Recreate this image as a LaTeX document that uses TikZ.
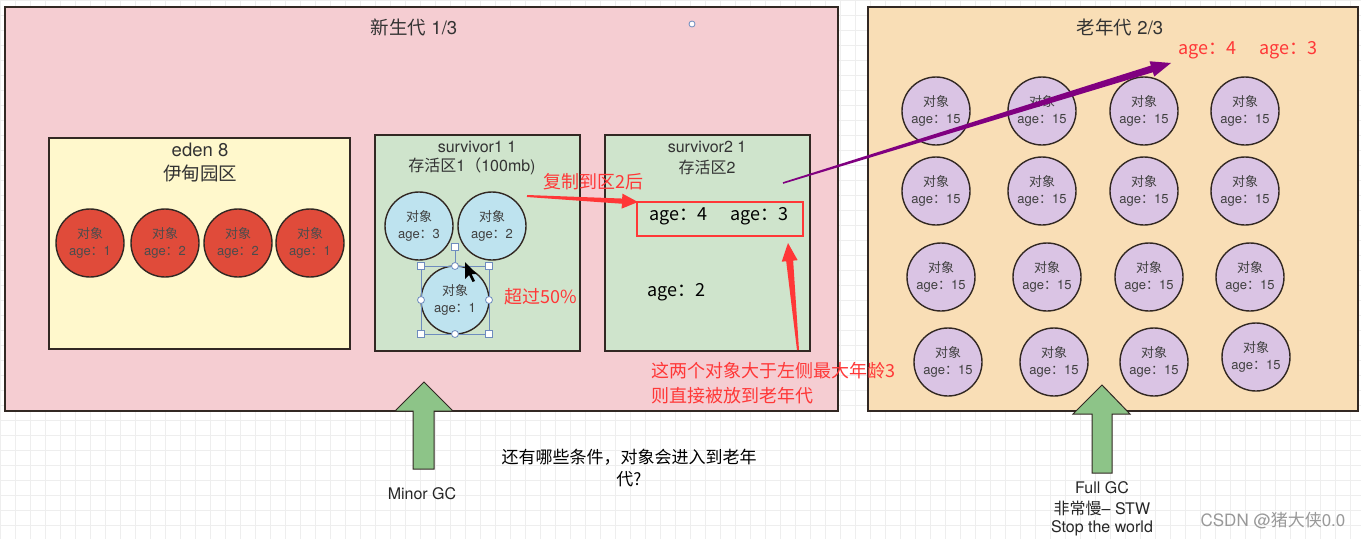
\documentclass[tikz,border=0pt]{standalone}
\usepackage{fontspec}
\setmainfont{TeX Gyre Heros}
\newfontfamily\cjk{Noto Sans CJK SC}
\newcommand{\zh}[1]{{\cjk #1}}
\usetikzlibrary{calc}
\definecolor{youngpink}{RGB}{245,205,210}
\definecolor{oldwheat}{RGB}{249,222,182}
\definecolor{edenyel}{RGB}{255,248,204}
\definecolor{survgreen}{RGB}{207,228,204}
\definecolor{objred}{RGB}{224,75,58}
\definecolor{objblue}{RGB}{190,227,239}
\definecolor{objpurple}{RGB}{218,196,228}
\definecolor{gcgreen}{RGB}{141,196,136}
\definecolor{notered}{RGB}{255,55,55}
\definecolor{arrowpurple}{RGB}{128,0,128}
\definecolor{gridgray}{RGB}{238,238,238}
\definecolor{selblue}{RGB}{110,140,190}
\definecolor{edge}{RGB}{50,40,35}
\newcommand{\fs}[1]{\fontsize{#1}{\fpeval{#1*1.25}}\selectfont}
\newcommand{\taperarrow}[7]{%
  \path ($(#2)!#5!(#1)$) coordinate (tb);
  \fill[#7] ($(#1)!#3!90:(#2)$) -- ($(tb)!#4!90:(#2)$) -- ($(tb)!#6!90:(#2)$) -- (#2)
    -- ($(tb)!#6!-90:(#2)$) -- ($(tb)!#4!-90:(#2)$) -- ($(#1)!#3!-90:(#2)$) -- cycle;}
\tikzset{
  region/.style={draw=edge, line width=1.3pt},
  title/.style={font=\fs{18.5}, text=black!80, inner sep=0pt},
  subtitle/.style={font=\fs{16}, text=black!80, inner sep=0pt},
  obj/.style={circle, draw=edge, line width=1.4pt, minimum size=68pt, inner sep=0pt,
    align=center, font=\fs{13}, text=black!75},
  redobj/.style={obj, fill=objred, text=black!70},
  blueobj/.style={obj, fill=objblue},
  purpleobj/.style={obj, fill=objpurple},
  note/.style={font=\fs{18}\cjk, text=notered, inner sep=0pt},
  plain/.style={font=\fs{18}\cjk, text=black, inner sep=0pt},
  gclabel/.style={font=\fs{16}, text=black!85, inner sep=0pt, align=center},
  gcarrow/.style={fill=gcgreen, draw=edge, line width=1pt, line join=miter},
  handle/.style={draw=selblue, fill=white, line width=0.8pt},
}
\begin{document}
\begin{tikzpicture}[x=1pt,y=-1pt]
\useasboundingbox (0,0) rectangle (1361,539);
\fill[white] (0,0) rectangle (1361,539);
\foreach \gx in {0,15,...,1361} \draw[gridgray, line width=0.5pt] (\gx,0) -- (\gx,539);
\foreach \gy in {0,15,...,539} \draw[gridgray, line width=0.5pt] (0,\gy) -- (1361,\gy);

% regions
\draw[region, fill=youngpink] (5,7) rectangle (838,411);
\draw[region, fill=oldwheat] (868,7) rectangle (1358,411);
\draw[region, fill=edenyel] (49,138) rectangle (350,349);
\draw[region, fill=survgreen] (375,135) rectangle (580,351);
\draw[region, fill=survgreen] (605,135) rectangle (810,351);

% titles
\node[title] (youngt) at (414,27) {\zh{新生代} 1/3};
\node[title] (oldt) at (1120,27) {\zh{老年代} 2/3};
\node[title] (edent1) at (200,150) {eden 8};
\node[title] (edent2) at (200,173) {\zh{伊甸园区}};
\node[subtitle] (s1t1) at (477,147) {survivor1 1};
\node[subtitle] (s1t2) at (472,166) {\zh{存活区}1\zh{（}100mb)};
\node[subtitle] (s2t1) at (707,147) {survivor2 1};
\node[subtitle] (s2t2) at (707,167) {\zh{存活区}2};
\node[circle, draw=selblue, fill=white, line width=0.8pt, minimum size=6pt, inner sep=0pt] (dot) at (692,24) {};

% eden objects
\node[redobj] (e1) at (90,243) {\zh{对象}\\age\zh{：}1};
\node[redobj] (e2) at (165,243) {\zh{对象}\\age\zh{：}2};
\node[redobj] (e3) at (238,243) {\zh{对象}\\age\zh{：}2};
\node[redobj] (e4) at (310,243) {\zh{对象}\\age\zh{：}1};

% survivor1 objects
\node[blueobj] (b1) at (419,226) {\zh{对象}\\age\zh{：}3};
\node[blueobj] (b2) at (492,226) {\zh{对象}\\age\zh{：}2};
\node[blueobj] (b3) at (455,300) {\zh{对象}\\age\zh{：}1};
% selection handles
\draw[selblue, line width=0.6pt] (421,266) rectangle (489,334);
\draw[selblue, line width=0.8pt] (455,266) -- (455,250);
\foreach \p in {(421,266),(489,266),(421,334),(489,334),(455,247)}
  \draw[handle] \p ++(-3.5,-3.5) rectangle ++(7,7);
\foreach \p in {(455,266),(421,300),(489,300),(455,334)}
  \draw[handle] \p circle (3.5);
\fill[black] (465,262) -- (465,279) -- (469,275) -- (472.5,282) -- (475,281) -- (471.5,274) -- (477,274) -- cycle;

\node[note] (over) at (541,297) {超过50\%};

% survivor2 content
\node[draw=notered, line width=2.5pt, minimum width=166pt, minimum height=34pt, inner sep=0pt] (rbox) at (720,219) {};
\node[plain] (ages) at (719,216) {age：4\hspace{1.3em}age：3};
\node[plain] (age2) at (676,292) {age：2};

\node[note, anchor=west] (copy) at (543,182) {复制到区2后};
\node[note, anchor=west] (n1) at (651,371) {这两个对象大于左侧最大年龄3};
\node[note, anchor=west] (n2) at (651,396) {则直接被放到老年代};

% old generation objects
\foreach \x [count=\i] in {936,1042,1144,1245}
  \node[purpleobj] (o1\i) at (\x,111) {\zh{对象}\\age\zh{：}15};
\foreach \x [count=\i] in {936,1042,1144,1245}
  \node[purpleobj] (o2\i) at (\x,191) {\zh{对象}\\age\zh{：}15};
\foreach \x [count=\i] in {941,1047,1149,1250}
  \node[purpleobj] (o3\i) at (\x,277) {\zh{对象}\\age\zh{：}15};
\node[purpleobj] (o41) at (948,362) {\zh{对象}\\age\zh{：}15};
\node[purpleobj] (o42) at (1054,362) {\zh{对象}\\age\zh{：}15};
\node[purpleobj] (o43) at (1154,362) {\zh{对象}\\age\zh{：}15};
\node[purpleobj] (o44) at (1256,357) {\zh{对象}\\age\zh{：}15};

\node[note] (oldages) at (1248,50) {age：4\hspace{1.3em}age：3};

% arrows
\coordinate (cpA) at (527,196);
\coordinate (cpB) at (638,202);
\taperarrow{cpA}{cpB}{1pt}{2.6pt}{16pt}{7.5pt}{notered}
\coordinate (upA) at (798,350);
\coordinate (upB) at (788,243);
\taperarrow{upA}{upB}{1pt}{3.5pt}{18pt}{8pt}{notered}
\coordinate (puA) at (783,183);
\coordinate (puB) at (1171,63);
\taperarrow{puA}{puB}{0.8pt}{3.5pt}{20pt}{8pt}{arrowpurple}

% GC arrows
\draw[gcarrow] (413,469) -- (413,411) -- (395,411) -- (424,382) -- (453,411) -- (434,411) -- (434,469) -- cycle;
\node[gclabel] (minor) at (422,494) {Minor GC};
\draw[gcarrow] (1092,473) -- (1092,414) -- (1073,414) -- (1102,385) -- (1130,414) -- (1112,414) -- (1112,473) -- cycle;
\node[gclabel] (full1) at (1102,488) {Full GC};
\node[gclabel] (full2) at (1102,508) {\zh{非常慢}– STW};
\node[gclabel] (full3) at (1102,528) {Stop the world};

\node[font=\fs{17}\cjk, inner sep=0pt, align=center] (q) at (629,468) {还有哪些条件，对象会进入到老年\\代?};
\node[font=\fs{17}, text=black!40, inner sep=0pt] (csdn) at (1273,521) {CSDN @\zh{猪大侠}0.0};
\end{tikzpicture}
\end{document}
